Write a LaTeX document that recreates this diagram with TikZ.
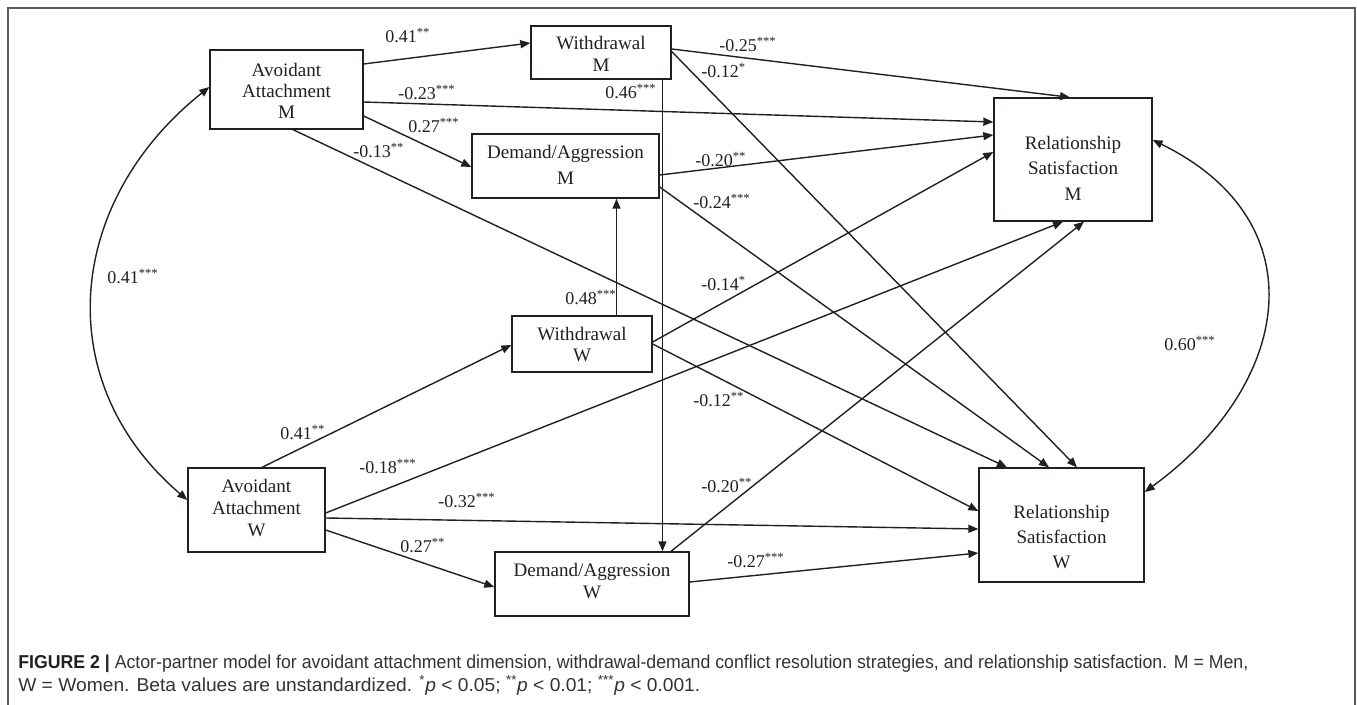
\documentclass[tikz,border=0pt]{standalone}
\usepackage{graphicx}
\usepackage{fontspec}
\setmainfont{Liberation Serif}
\newfontfamily\capfont{Liberation Sans}
\usetikzlibrary{arrows.meta,calc}
\definecolor{ink}{HTML}{231F20}
\definecolor{capink}{HTML}{333333}
\definecolor{framecol}{HTML}{5A5A5A}
\begin{document}
\begin{tikzpicture}[x=0.75pt,y=-0.75pt,
  box/.style={draw=ink,line width=1pt,rectangle,inner sep=0pt},
  boxtext/.style={text=ink,align=center,inner sep=0pt},
  coef/.style={text=ink,anchor=base west,inner sep=0pt,font=\fontsize{13.5}{15}\selectfont},
  conn/.style={draw=ink,line width=1.05pt,-{Triangle[length=7.5pt,width=6pt]}},
  cov/.style={draw=ink,line width=1.05pt,{Triangle[length=7.5pt,width=6pt]}-{Triangle[length=7.5pt,width=6pt]}},
  captext/.style={anchor=base west,inner sep=0pt,text=capink,font=\capfont\fontsize{14}{17.25}\selectfont},
]
\useasboundingbox (0,0) rectangle (1357,705);
\draw[framecol,line width=1.3pt] (8,712) -- (8,8) -- (1355,8) -- (1355,712);

% boxes
\node[box,minimum width=114.75pt,minimum height=59.25pt] (aam) at (286.5,89.5) {};
\node[box,minimum width=105pt,minimum height=39.75pt] (wm) at (601,52.5) {};
\node[box,minimum width=140.25pt,minimum height=48pt] (dam) at (565.5,166) {};
\node[box,minimum width=118.5pt,minimum height=92.25pt] (rsm) at (1073,159.5) {};
\node[box,minimum width=105pt,minimum height=42pt] (ww) at (582,344) {};
\node[box,minimum width=102.75pt,minimum height=63pt] (aaw) at (256.5,510) {};
\node[box,minimum width=145.5pt,minimum height=48pt] (daw) at (592,584) {};
\node[box,minimum width=123.75pt,minimum height=85.5pt] (rsw) at (1061.5,525) {};

% box texts
\node[boxtext,font=\fontsize{14.3}{15.75}\selectfont] (aamt) at (286.5,90.5) {Avoidant\\Attachment\\M};
\node[boxtext,font=\fontsize{14.3}{16.3}\selectfont] (wmt) at (601,54) {Withdrawal\\M};
\node[boxtext,font=\fontsize{14.3}{19.5}\selectfont] (damt) at (565.5,164.5) {Demand/Aggression\\M};
\node[boxtext,font=\fontsize{14.3}{19.1}\selectfont] (rsmt) at (1073,168) {Relationship\\Satisfaction\\M};
\node[boxtext,font=\fontsize{14.3}{16}\selectfont] (wwt) at (582,344.8) {Withdrawal\\W};
\node[boxtext,font=\fontsize{14.3}{16.5}\selectfont] (aawt) at (256.5,508.5) {Avoidant\\Attachment\\W};
\node[boxtext,font=\fontsize{14.3}{16}\selectfont] (dawt) at (592,581) {Demand/Aggression\\W};
\node[boxtext,font=\fontsize{14.3}{18.75}\selectfont] (rswt) at (1061.5,537.5) {Relationship\\Satisfaction\\W};

% paths
\draw[conn] ($(aam.east)+(0,-25.5)$) -- ($(wm.west)+(0,-9.5)$);
\draw[conn] ($(aam.east)+(0,12.5)$) -- ($(rsm.west)+(0,-37.5)$);
\draw[conn] ($(aam.east)+(0,26.5)$) -- ($(dam.west)+(0,1)$);
\draw[conn] ($(aam.south)+(6.5,0)$) -- ($(rsw.north)+(-54.5,0)$);
\draw[conn] ($(wm.east)+(0,-3.5)$) -- ($(rsm.north)+(-3,0)$);
\draw[conn] ($(wm.east)+(0,-1)$) -- ($(rsw.north)+(15.5,0)$);
\draw[conn] ($(wm.south)+(61.5,0)$) -- ($(daw.north)+(70.5,0)$);
\draw[conn] ($(dam.east)+(0,9)$) -- ($(rsm.west)+(0,-24.5)$);
\draw[conn] ($(dam.east)+(0,21)$) -- ($(rsw.north)+(-12.5,0)$);
\draw[conn] ($(ww.north)+(34.5,0)$) -- ($(dam.south)+(51,0)$);
\draw[conn] ($(ww.east)+(0,-2)$) -- ($(rsm.west)+(0,-7.5)$);
\draw[conn] ($(ww.east)+(0,0)$) -- ($(rsw.west)+(0,-14)$);
\draw[conn] ($(aaw.north)+(5.5,0)$) -- ($(ww.west)+(0,1)$);
\draw[conn] ($(aaw.east)+(0,3)$) -- ($(rsm.south)+(-10,0)$);
\draw[conn] ($(aaw.east)+(0,8)$) -- ($(rsw.west)+(0,4)$);
\draw[conn] ($(aaw.east)+(0,20)$) -- ($(daw.west)+(0,3)$);
\draw[conn] ($(daw.north)+(79,0)$) -- ($(rsm.south)+(11,0)$);
\draw[conn] ($(daw.east)+(0,-2)$) -- ($(rsw.west)+(0,28)$);

% covariances
\draw[cov] ($(aam.west)+(0,-2.5)$) .. controls +(-144,115) and +(-138,-118) .. ($(aaw.west)+(0,-10)$);
\draw[cov] ($(rsm.east)+(0,-19.5)$) .. controls +(166.5,81.4) and +(148,-108) .. ($(rsw.east)+(0,-33)$);

% coefficients
\node[coef] (l1) at (385,43) {0.41\textsuperscript{**}};
\node[coef] (l2) at (398,100) {-0.23\textsuperscript{***}};
\node[coef] (l3) at (408,133) {0.27\textsuperscript{***}};
\node[coef] (l4) at (353,158) {-0.13\textsuperscript{**}};
\node[coef] (l5) at (719,52) {-0.25\textsuperscript{***}};
\node[coef] (l6) at (701,78) {-0.12\textsuperscript{*}};
\node[coef] (l7) at (605,99) {0.46\textsuperscript{***}};
\node[coef] (l8) at (695,167) {-0.20\textsuperscript{**}};
\node[coef] (l9) at (693,209) {-0.24\textsuperscript{***}};
\node[coef] (l10) at (107,284) {0.41\textsuperscript{***}};
\node[coef] (l11) at (565,305) {0.48\textsuperscript{***}};
\node[coef] (l12) at (701,291) {-0.14\textsuperscript{*}};
\node[coef] (l13) at (693,407) {-0.12\textsuperscript{**}};
\node[coef] (l14) at (280,440) {0.41\textsuperscript{**}};
\node[coef] (l15) at (359,474) {-0.18\textsuperscript{***}};
\node[coef] (l16) at (438,508) {-0.32\textsuperscript{***}};
\node[coef] (l17) at (400,553) {0.27\textsuperscript{**}};
\node[coef] (l18) at (701,493) {-0.20\textsuperscript{**}};
\node[coef] (l19) at (727,568) {-0.27\textsuperscript{***}};
\node[coef] (l20) at (1164,351) {0.60\textsuperscript{***}};

% caption
\node[captext] (cap1) at (18,668) {\resizebox{922.5pt}{\height}{{\color{ink}\textbf{FIGURE 2 |}} Actor-partner model for avoidant attachment dimension, withdrawal-demand conflict resolution strategies, and relationship satisfaction. M = Men,}};
\node[captext] (cap2) at (18,691) {\resizebox{511.5pt}{\height}{W = Women. Beta values are unstandardized. \textsuperscript{*}\textit{p} < 0.05; \textsuperscript{**}\textit{p} < 0.01; \textsuperscript{***}\textit{p} < 0.001.}};
\end{tikzpicture}
\end{document}
